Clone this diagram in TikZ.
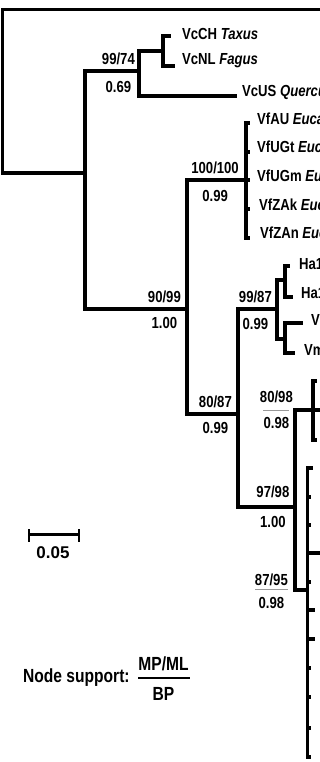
\documentclass[tikz,border=0pt]{standalone}
\usepackage{fontspec}
\setmainfont{Liberation Sans}[FakeStretch=0.82]
\newfontfamily\plainsans{Liberation Sans}
\usetikzlibrary{calc}

\begin{document}
\begin{tikzpicture}[x=1pt, y=-1pt,
    branch/.style={line width=3.5pt, line join=miter},
    lab/.style={inner sep=0pt, font=\fontsize{16}{19}\selectfont\bfseries},
    taxon/.style={lab, anchor=base west},
    suprule/.style={gray!80, line width=0.9pt},
    legend/.style={inner sep=0pt, font=\fontsize{19}{22}\selectfont\bfseries}]

\useasboundingbox (0,0) rectangle (320,762);
\fill[white] (0,0) rectangle (320,762);
\clip (0,0) rectangle (320,762);

\coordinate (root) at (2.5,91);
\coordinate (outg) at (330,9.5);
\coordinate (nA) at (85,173);
\coordinate (nB) at (139,71);
\coordinate (nD) at (163,51);
\coordinate (nC) at (187,309);
\coordinate (nE) at (246,180);
\coordinate (nF) at (238,414);
\coordinate (nG) at (277,309);
\coordinate (nI) at (285,280);
\coordinate (nJ) at (285,339);
\coordinate (nH) at (295,507);
\coordinate (nK) at (313,410);
\coordinate (nL) at (307.5,590);

\draw[branch] (root) |- (outg);
\draw[branch] (root) |- (nA);
\draw[branch] (nA) |- (nB);
\draw[branch] (nA) |- (nC);
\draw[branch] (nB) |- (nD);
\draw[branch] (nC) |- (nE);
\draw[branch] (nC) |- (nF);
\draw[branch] (nF) |- (nG);
\draw[branch] (nF) |- (nH);
\draw[branch] (nG) |- (nI);
\draw[branch] (nG) |- (nJ);
\draw[branch] (nH) |- (nK);
\draw[branch] (nH) |- (nL);

\coordinate (tCH) at (171,36);
\coordinate (tNL) at (175,66);
\coordinate (tUS) at (237,96);
\draw[branch] (nD) |- (tCH);
\draw[branch] (nD) |- (tNL);
\draw[branch] (nB) |- (tUS);

\foreach \y [count=\i] in {123,152,180,209,238}
{
    \coordinate (tE\i) at (250,\y);
    \draw[branch] (nE) |- (tE\i);
}

\coordinate (tI1) at (290,266);
\coordinate (tI2) at (293,297);
\coordinate (tJ1) at (303,323);
\coordinate (tJ2) at (295,353);
\draw[branch] (nI) |- (tI1);
\draw[branch] (nI) |- (tI2);
\draw[branch] (nJ) |- (tJ1);
\draw[branch] (nJ) |- (tJ2);

\foreach \x/\y [count=\i] in {317/381,330/410,317/440}
{
    \coordinate (tK\i) at (\x,\y);
    \draw[branch] (nK) |- (tK\i);
}

\foreach \x/\y [count=\i] in {313/468,311/497,311/525,330/553,311/582,315/610,315/639,311/668,311/697,311/728,311/757}
{
    \coordinate (tL\i) at (\x,\y);
    \draw[branch] (nL) |- (tL\i);
}

\node[taxon] (lCH) at (182,40) {VcCH \textit{Taxus}};
\node[taxon] (lNL) at (182,65) {VcNL \textit{Fagus}};
\node[taxon] (lUS) at (242,97) {VcUS \textit{Quercus}};

\foreach \x/\y/\n [count=\i] in {257/125/VfAU,257/153/VfUGt,257/181.5/VfUGm,259/210/VfZAk,260/238/VfZAn}
{
    \node[taxon] (lE\i) at (\x,\y) {\n\ \textit{Eucalyptus}};
}

\node[taxon] (lI1) at (299,269) {Ha1};
\node[taxon] (lI2) at (301,298) {Ha1};
\node[taxon] (lJ1) at (311,325) {V};
\node[taxon] (lJ2) at (304,355) {Vm};

\node[lab, anchor=base east] (sB) at (135,65) {99/74};
\node[lab, anchor=base] (bB) at ($(sB.base)+(0,28)$) {0.69};

\node[lab, anchor=base east] (sC) at (181,302.5) {90/99};
\node[lab, anchor=base] (bC) at ($(sC.base)+(0,25.5)$) {1.00};

\node[lab, anchor=base east] (sE) at (239,173) {100/100};
\node[lab, anchor=base] (bE) at ($(sE.base)+(0,28)$) {0.99};

\node[lab, anchor=base east] (sF) at (232,407.5) {80/87};
\node[lab, anchor=base] (bF) at ($(sF.base)+(0,25.5)$) {0.99};

\node[lab, anchor=base east] (sG) at (272,302.5) {99/87};
\node[lab, anchor=base] (bG) at ($(sG.base)+(0,26.5)$) {0.99};

\node[lab, anchor=base east] (sH) at (289.5,497) {97/98};
\node[lab, anchor=base] (bH) at ($(sH.base)+(0,30)$) {1.00};

\node[lab, anchor=base east] (sK) at (293,402) {80/98};
\node[lab, anchor=base] (bK) at ($(sK.base)+(0,26)$) {0.98};
\draw[suprule] (263,410) -- (289,410);

\node[lab, anchor=base east] (sL) at (288,585) {87/95};
\node[lab, anchor=base] (bL) at ($(sL.base)+(0,23)$) {0.98};
\draw[suprule] (255,589) -- (288,589);

\coordinate (sbL) at (29,534);
\coordinate (sbR) at (79,534);
\draw[line width=3pt] (sbL) -- (sbR);
\draw[line width=2pt] ($(sbL)+(0,-5)$) -- ($(sbL)+(0,7.5)$);
\draw[line width=2pt] ($(sbR)+(0,-5)$) -- ($(sbR)+(0,7.5)$);
\node[inner sep=0pt, anchor=base, font=\plainsans\fontsize{17}{20}\selectfont\bfseries] (sbT) at (53,558) {0.05};

\node[legend, anchor=base west] (nsup) at (23,682) {Node support:};
\node[legend, anchor=base] (mpml) at (163.5,670) {MP/ML};
\node[legend, anchor=base] (bp) at (163.5,700) {BP};
\draw[line width=2.8pt] (138,678) -- (190,678);

\end{tikzpicture}
\end{document}
